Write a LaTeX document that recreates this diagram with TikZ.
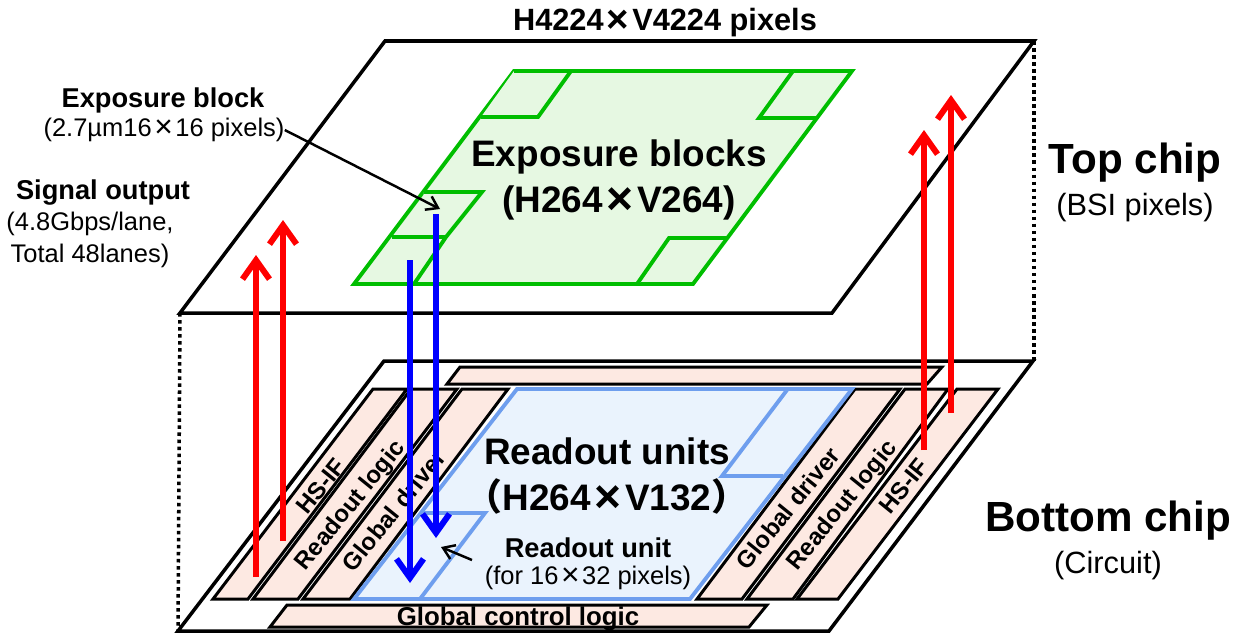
\documentclass[tikz,border=0pt]{standalone}
\usepackage{fontspec}
\setmainfont{Liberation Sans}
\newfontfamily\cjk{Noto Sans CJK JP}
\usepackage{xcolor}
\usetikzlibrary{arrows.meta}
\definecolor{chipgreen}{HTML}{00BE00}
\definecolor{chipgreenfill}{HTML}{E6F8E2}
\definecolor{unitblue}{HTML}{6E9EEE}
\definecolor{unitbluefill}{HTML}{EAF3FD}
\definecolor{stripfill}{HTML}{FDE9E2}
\newcommand{\tms}{\hspace{0.1em}\raisebox{-0.05em}{\scalebox{1.25}{×}}\hspace{0.1em}}

\begin{document}
\begin{tikzpicture}[x=0.02cm,y=-0.02cm,
    chip/.style={draw=black,line width=2pt,line join=miter},
    strip/.style={draw=black,fill=stripfill,line width=1.7pt},
    expo/.style={draw=chipgreen,fill=chipgreenfill,line width=2.2pt},
    unit/.style={draw=unitblue,fill=unitbluefill,line width=2.2pt},
    link/.style={dotted,line width=2pt},
    sig/.style={line width=3.4pt,-{Straight Barb[length=3.8mm,width=5.4mm]}},
    pointer/.style={line width=1.4pt,-{Straight Barb[length=2.2mm,width=3mm]}},
    title/.style={align=center,inner sep=0pt,font=\bfseries\fontsize{21}{26}\selectfont},
    chiptitle/.style={inner sep=0pt,font=\bfseries\fontsize{24}{28}\selectfont},
    chipnote/.style={inner sep=0pt,font=\fontsize{17.5}{21}\selectfont},
    boldnote/.style={inner sep=0pt,font=\bfseries\fontsize{15.5}{19}\selectfont},
    plainnote/.style={inner sep=0pt,font=\fontsize{14.5}{18}\selectfont},
    block/.style={inner sep=0pt,font=\bfseries\fontsize{13.7}{17}\selectfont}
]
\useasboundingbox (0,0) rectangle (1240,640);

% dotted links between the chips
\draw[link] (180,313) -- (178,631);
\draw[link] (1034,41) -- (1034,361);

% top chip
\draw[chip] (385,41) -- (1034,41) -- (832,313) -- (180,313) -- cycle;
\draw[expo] (514,71) -- (852,71) -- (693,284) -- (354,284) -- cycle;
\draw[expo] (514,71) -- (571,71) -- (538,117) -- (481,117);
\draw[expo] (793,71) -- (759,118) -- (816,118);
\draw[expo] (727,238) -- (669,238) -- (637,284);
\draw[expo] (424,192) -- (482,192) -- (446,237) -- (392,237) -- (446,237) -- (414,284);

% bottom chip
\draw[chip] (384,361) -- (1033,361) -- (829,631) -- (178,631) -- cycle;
\draw[strip] (460,367) -- (942,367) -- (927,384) -- (447,384) -- cycle;
\draw[strip] (287,605) -- (767,605) -- (749,627) -- (270,627) -- cycle;
\draw[strip] (373,389) -- (407,389) -- (248,599) -- (213,599) -- cycle;
\draw[strip] (411,389) -- (457,389) -- (298,599) -- (253,599) -- cycle;
\draw[strip] (462,389) -- (508,389) -- (350,599) -- (303,599) -- cycle;
\draw[strip] (855,389) -- (900,389) -- (742,599) -- (697,599) -- cycle;
\draw[strip] (905,389) -- (948,389) -- (793,599) -- (747,599) -- cycle;
\draw[strip] (957,389) -- (998,389) -- (838,599) -- (797,599) -- cycle;
\draw[unit] (517,389) -- (852,389) -- (690,599) -- (354,599) -- cycle;
\draw[unit] (423,513) -- (485,513) -- (420,599);
\draw[unit] (787,390) -- (722,476) -- (783,476);

% labels on the bottom chip
\node[block,rotate=51] (leftif)     at (321,486) {HS-IF};
\node[block,rotate=51] (leftlogic)  at (351,506) {Readout logic};
\node[block,rotate=51] (leftdrv)    at (394,510) {Global driver};
\node[block,rotate=51] (rightdrv)   at (788,508) {Global driver};
\node[block,rotate=51] (rightlogic) at (843,506) {Readout logic};
\node[block,rotate=51] (rightif)    at (904,486) {HS-IF};
\node[block,font=\bfseries\fontsize{14.7}{17}\selectfont] (ctrl) at (518,619) {Global control logic};

\node[title] (units) at (607,476) {Readout units\\{\cjk （}H264\tms V132{\cjk ）}};
\node[boldnote] (unitname) at (588,548) {Readout unit};
\node[plainnote] (unitdetail) at (588,578) {(for 16\tms 32 pixels)};

% labels on the top chip and around it
\node[title] (blocks) at (619,180) {Exposure blocks\\(H264\tms V264)};
\node[boldnote,font=\bfseries\fontsize{17.5}{21}\selectfont] (pixels) at (665,23) {H4224\tms V4224 pixels};
\node[boldnote] (exponame) at (163,100) {Exposure block};
\node[plainnote] (expodetail) at (164,130) {(2.7µm16\tms 16 pixels)};
\node[boldnote] (signame) at (103,193) {Signal output};
\node[plainnote,align=center] (sigdetail) at (90,240) {(4.8Gbps/lane,\\Total 48lanes)};
\node[chiptitle] (topname) at (1135,163) {Top chip};
\node[chipnote] (topnote) at (1135,208) {(BSI pixels)};
\node[chiptitle] (botname) at (1108,521) {Bottom chip};
\node[chipnote] (botnote) at (1108,566) {(Circuit)};

% signal arrows
\coordinate (redaS) at (256,577); \coordinate (redaE) at (256,255);
\coordinate (redbS) at (283,541); \coordinate (redbE) at (283,220);
\coordinate (redcS) at (924,450); \coordinate (redcE) at (924,130);
\coordinate (reddS) at (951,413); \coordinate (reddE) at (951,95);
\coordinate (blueaS) at (410,260); \coordinate (blueaE) at (410,583);
\coordinate (bluebS) at (436,214); \coordinate (bluebE) at (436,538);
\draw[sig,red] (redaS) -- (redaE);
\draw[sig,red] (redbS) -- (redbE);
\draw[sig,red] (redcS) -- (redcE);
\draw[sig,red] (reddS) -- (reddE);
\draw[sig,blue] (blueaS) -- (blueaE);
\draw[sig,blue] (bluebS) -- (bluebE);

% pointers
\coordinate (expotip) at (440,209);
\coordinate (unitfrom) at (472,560);
\coordinate (unittip) at (441,547);
\draw[pointer] (expodetail.east) -- (expotip);
\draw[pointer] (unitfrom) -- (unittip);
\end{tikzpicture}
\end{document}
